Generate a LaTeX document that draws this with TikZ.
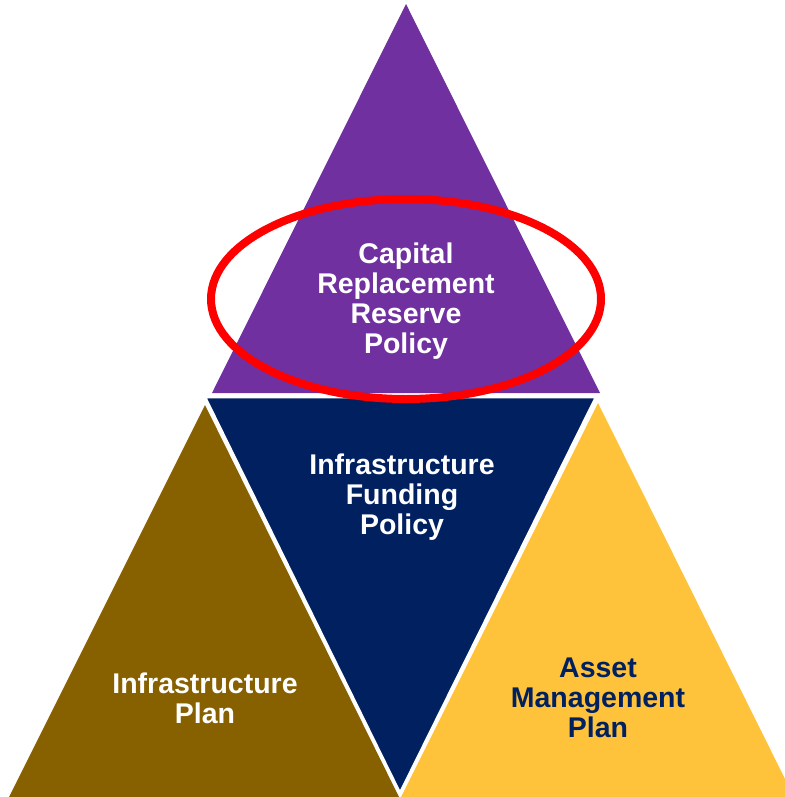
\documentclass[tikz,border=0pt]{standalone}
\usepackage{fontspec}
\setmainfont{Liberation Sans}
\usetikzlibrary{calc}
\definecolor{topviolet}{HTML}{7030A0}
\definecolor{midnavy}{HTML}{002060}
\definecolor{leftbrown}{HTML}{876000}
\definecolor{rightgold}{HTML}{FFC33B}
\tikzset{
  piece/.style={draw=white,line width=2.5pt,line join=miter},
  label/.style={align=center,inner sep=0pt,font=\bfseries\fontsize{28.5}{29.8}\selectfont}
}

\begin{document}
\begin{tikzpicture}[x=1pt,y=-1pt]
  \useasboundingbox (0,0) rectangle (784,797);
  % corners of the four triangles
  \coordinate (TA) at (406,4);
  \coordinate (TL) at (212,393);
  \coordinate (TR) at (600,393);
  \coordinate (ML) at (205,397);
  \coordinate (MR) at (596,397);
  \coordinate (MB) at (400,793);
  \coordinate (LA) at (205,405);
  \coordinate (LL) at (9,797);
  \coordinate (LR) at (399,797);
  \coordinate (RA) at (598,403);
  \coordinate (RL) at (401,797);
  \coordinate (RR) at (794,797);
  \begin{scope}
    \fill[leftbrown] (LA) -- (LL) -- (LR) -- cycle;
    \fill[rightgold] (RA) -- (RL) -- (RR) -- cycle;
    \fill[topviolet] (TA) -- (TL) -- (TR) -- cycle;
    \filldraw[piece,fill=midnavy] (ML) -- (MR) -- (MB) -- cycle;
  \end{scope}
  % highlight
  \draw[red,line width=8pt] (406,299) ellipse [x radius=195,y radius=100];
  \node[label,text=white] (reserve) at (406,301) {Capital\\Replacement\\Reserve\\Policy};
  \node[label,text=white] (funding) at (402,497) {Infrastructure\\Funding\\Policy};
  \node[label,text=white] (infra) at (205,698) {Infrastructure\\Plan};
  \node[label,text=midnavy] (asset) at (598,698) {Asset\\Management\\Plan};
\end{tikzpicture}
\end{document}
